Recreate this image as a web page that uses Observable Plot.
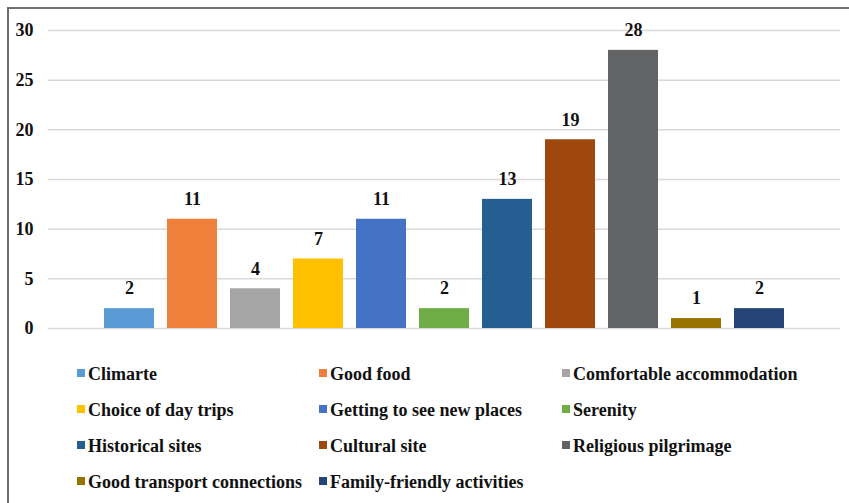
<!DOCTYPE html>
<html>
<head>
<meta charset="utf-8">
<script src="https://cdn.jsdelivr.net/npm/d3@7"></script>
<script src="https://cdn.jsdelivr.net/npm/@observablehq/plot@0.6"></script>
<style>
  body { margin: 0; background: #fff; }
  #wrap { position: relative; width: 849px; height: 503px; overflow: hidden;
          font-family: "Liberation Serif", "Times New Roman", serif; }
  .edge { position: absolute; background: #6e6e6e; pointer-events: none; z-index: 5; }
  #edge-top { left: 7px; top: 7px; width: 842px; height: 2px; }
  #edge-left { left: 7px; top: 7px; width: 2px; height: 496px; }
  #chart { position: absolute; left: 0; top: 0; }
  .item { position: absolute; display: flex; align-items: flex-start; font-weight: bold;
          font-size: 18px; line-height: 1; color: #111; white-space: nowrap; }
  .sw { width: 8px; height: 8px; margin-top: 4px; margin-right: 3px; flex: none; }
</style>
</head>
<body>
<div id="wrap">
  <div id="chart"></div>
  <div id="legend"></div>
  <div class="edge" id="edge-top"></div>
  <div class="edge" id="edge-left"></div>
</div>
<script>
// Reasons for visiting, with the number of respondents naming each one
const categories = [
  "Climarte", "Good food", "Comfortable accommodation", "Choice of day trips",
  "Getting to see new places", "Serenity", "Historical sites", "Cultural site",
  "Religious pilgrimage", "Good transport connections", "Family-friendly activities"
];
const counts = [2, 11, 4, 7, 11, 2, 13, 19, 28, 1, 2];
const colors = [
  "#5b9bd5", "#f07f3b", "#a5a5a5", "#ffc000", "#4472c4", "#70ad47",
  "#255e91", "#9e480e", "#626365", "#997300", "#264478"
];
const yTicks = [0, 5, 10, 15, 20, 25, 30];

const data = categories.map((c, i) => ({ category: c, count: counts[i] }));

const chart = Plot.plot({
  width: 849,
  height: 345,
  marginLeft: 48,
  marginRight: 9,
  marginTop: 30,
  marginBottom: 17,
  style: { fontFamily: "'Liberation Serif', 'Times New Roman', serif", fontSize: "18px", fontWeight: "bold", color: "#111", background: "transparent" },
  x: { domain: categories, axis: null, paddingInner: 0.21, paddingOuter: 0.86 },
  y: { domain: [0, 30], axis: null },
  color: { domain: categories, range: colors },
  marks: [
    Plot.gridY(yTicks, { stroke: "#d9d9d9", strokeOpacity: 1, strokeWidth: 1.5 }),
    Plot.axisY(yTicks, { label: null, tickSize: 0, tickPadding: 15, fontSize: 18, fontWeight: "bold", fill: "#111" }),
    Plot.barY(data, { x: "category", y: "count", fill: "category" }),
    Plot.text(data, { x: "category", y: "count", text: d => String(d.count), dy: -20,
                      fontSize: 18, fontWeight: "bold", fill: "#111" })
  ]
});
document.getElementById("chart").append(chart);

// Legend: three columns, filled row by row
const legend = document.getElementById("legend");
const colX = [77, 319, 562];
const rowY = [365, 401, 437, 473];
categories.forEach((c, i) => {
  const item = document.createElement("div");
  item.className = "item";
  item.style.left = colX[i % 3] + "px";
  item.style.top = rowY[Math.floor(i / 3)] + "px";
  const sw = document.createElement("span");
  sw.className = "sw";
  sw.style.background = colors[i];
  const label = document.createElement("span");
  label.textContent = c;
  item.append(sw, label);
  legend.append(item);
});
</script>
</body>
</html>
